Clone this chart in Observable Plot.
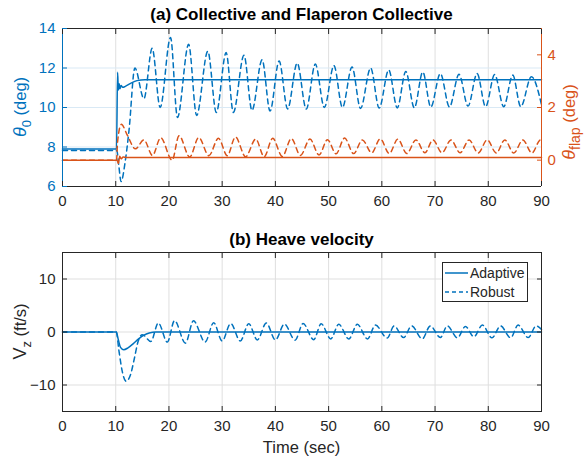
<!DOCTYPE html>
<html><head><meta charset="utf-8">
<script src="https://cdn.jsdelivr.net/npm/d3@7"></script>
<script src="https://cdn.jsdelivr.net/npm/@observablehq/plot@0.6"></script>
<style>
body{margin:0;background:#fff;}
#chart{position:relative;width:584px;height:462px;background:#fff;}
#chart svg{display:block;}
</style></head><body><div id="chart"></div>
<script>
// ---------- data ----------
const timeTicks = [0,10,20,30,40,50,60,70,80,90];
const thetaTicks = [6,8,10,12,14];
const flapTicks = [0,2,4];
const vzTicks = [-10,0,10];

// [time (s), theta0 (deg)] — Adaptive
const theta0Adaptive = [[0,7.9],[10.15,7.9],[10.35,11.78],[10.5,10.88],[10.65,11.2],[10.8,10.95],[11.0,11.12],[11.3,11.02],[11.8,11.07],[12.8,11.22],[14.0,11.36],[15.5,11.41],[90,11.41]];
// [time (s), theta0 (deg)] — Robust
const theta0Robust = [[0,7.82],[10.2,7.82],[10.6,7.0],[11.0,6.25],[11.8,7.3],[12.5,8.85],[13.6,12.0],[15.3,10.45],[16.85,13.0],[18.35,10.0],[20.3,13.55],[21.6,9.5],[23.7,13.2],[25.2,9.6],[27.3,12.85],[28.9,9.75],[30.75,12.78],[32.1,9.75],[34.1,12.65],[35.6,9.85],[37.5,12.42],[39.0,9.82],[40.7,12.35],[42.3,9.93],[44.1,12.25],[45.8,9.92],[47.5,12.2],[49.2,10.0],[51.0,12.12],[52.6,10.0],[54.4,12.05],[56.0,9.95],[57.9,12.0],[59.5,9.97],[61.3,11.9],[62.9,9.98],[64.5,11.82],[66.1,9.98],[67.7,11.8],[69.2,10.02],[71.0,11.72],[72.7,10.03],[74.5,11.68],[76.2,10.07],[77.9,11.72],[79.5,10.04],[81.2,11.67],[82.9,10.04],[84.6,11.64],[86.1,10.04],[88.1,11.56],[90,10.15]];
// [time (s), theta_flap (deg)] — Adaptive
const flapAdaptive = [[0,0],[10.25,0],[10.5,-0.13],[10.75,0.15],[11.0,0.05],[11.4,0.12],[12,0.1],[90,0.1]];
// [time (s), theta_flap (deg)] — Robust
const flapRobust = [[0,0],[10.15,0],[10.35,0.7],[11.05,1.36],[12.2,0.94],[13.7,0.43],[15.3,0.77],[16.9,0.18],[18.45,0.85],[20.6,0.0],[21.9,0.93],[23.9,0.12],[25.6,0.86],[27.5,0.17],[29.3,0.83],[30.95,0.17],[32.5,0.88],[34.4,0.13],[36.3,0.8],[37.9,0.13],[39.5,0.83],[41.3,0.14],[43.0,0.82],[44.7,0.18],[46.5,0.8],[48.2,0.2],[49.8,0.78],[51.4,0.24],[53.0,0.84],[54.7,0.25],[56.35,0.77],[58.1,0.28],[59.7,0.81],[61.4,0.25],[63.0,0.8],[64.7,0.25],[66.4,0.77],[68.1,0.28],[69.6,0.77],[71.3,0.28],[73.0,0.77],[74.7,0.28],[76.4,0.77],[78.1,0.27],[79.8,0.77],[81.5,0.27],[83.1,0.77],[84.8,0.27],[86.5,0.77],[88.2,0.27],[89.8,0.77],[90,0.76]];
// [time (s), Vz (ft/s)] — Adaptive
const vzAdaptive = [[0,0],[10.1,0],[10.5,-1.5],[10.9,-2.9],[11.5,-3.35],[12.3,-3.0],[13.3,-2.2],[14.3,-1.3],[15.3,-0.6],[16.3,-0.2],[17.5,0],[90,0]];
// [time (s), Vz (ft/s)] — Robust
const vzRobust = [[0,0],[10.1,0],[10.6,-3.5],[11.2,-7.3],[11.95,-9.3],[12.8,-8.0],[13.5,-5.0],[14.2,-1.8],[15.0,-0.5],[16.6,-1.8],[18.0,1.7],[19.7,-1.9],[21.05,2.15],[23.1,-2.1],[24.6,2.1],[26.8,-1.9],[28.4,1.75],[30.0,-1.7],[31.6,1.6],[33.4,-1.7],[35.0,1.55],[36.6,-1.5],[38.3,1.7],[40.0,-1.5],[41.7,1.5],[43.7,-1.55],[45.2,1.6],[47.2,-1.45],[48.6,1.55],[50.4,-1.3],[51.9,1.45],[53.8,-1.3],[55.4,1.45],[57.3,-1.3],[58.8,1.3],[61.0,-1.15],[62.3,1.15],[64.1,-1.05],[65.6,1.15],[67.6,-1.3],[69.1,1.15],[71.0,-1.05],[72.3,1.15],[74.2,-1.1],[75.7,1.05],[77.3,-0.9],[78.9,1.3],[80.7,-1.1],[82.3,1.15],[84.2,-1.1],[85.6,1.3],[87.5,-1.05],[89.0,1.15],[90,0.5]];

const titleA = "(a) Collective and Flaperon Collective";
const titleB = "(b) Heave velocity";
const xLabel = "Time (sec)";
const legendLabels = ["Adaptive", "Robust"];

// ---------- style ----------
const BLUE = "#0072BD", ORANGE = "#D95319", INK = "#262626";
const FONT = "'Liberation Sans', Arial, Helvetica, sans-serif";
const GRIDX = "#dfdfdf", GRIDY_BLUE = "#d9e9f5";
const DASH = "5,4";
const LW = 1.5;
const W = 584;

const chart = document.getElementById("chart");
const X = d => d[0], Y = d => d[1];

// right axis (theta_flap) mapped onto the left scale (theta0)
const flapToTheta = d3.scaleLinear([-1, 5], [6, 14]);

// ---------- panel (a) ----------
const pA = Plot.plot({
  width: W, height: 215,
  marginLeft: 62, marginRight: 43, marginTop: 28, marginBottom: 29,
  style: {fontFamily: FONT, fontSize: "15px", background: "white", overflow: "visible"},
  x: {domain: [0, 90]},
  y: {domain: [6, 14]},
  marks: [
    Plot.gridX(timeTicks, {stroke: GRIDX, strokeOpacity: 1}),
    Plot.gridY(thetaTicks, {stroke: GRIDY_BLUE, strokeOpacity: 1}),
    Plot.line(theta0Robust, {x: X, y: Y, stroke: BLUE, strokeWidth: LW, strokeDasharray: DASH, curve: "monotone-x"}),
    Plot.line(theta0Adaptive, {x: X, y: Y, stroke: BLUE, strokeWidth: LW, curve: "monotone-x"}),
    Plot.line(flapRobust, {x: X, y: d => flapToTheta(d[1]), stroke: ORANGE, strokeWidth: LW, strokeDasharray: DASH, curve: "monotone-x"}),
    Plot.line(flapAdaptive, {x: X, y: d => flapToTheta(d[1]), stroke: ORANGE, strokeWidth: LW, curve: "monotone-x"}),
    Plot.ruleY([6], {stroke: INK}),
    Plot.ruleY([14], {stroke: INK}),
    Plot.ruleX([0], {stroke: BLUE}),
    Plot.ruleX([90], {stroke: ORANGE}),
    Plot.axisX(timeTicks, {anchor: "bottom", tickSize: -5, tickPadding: 14, color: INK, label: null}),
    Plot.axisX(timeTicks, {anchor: "top", tickSize: -5, text: null, color: INK, label: null}),
    Plot.axisY(thetaTicks, {anchor: "left", tickSize: -5, tickPadding: 12, color: BLUE, label: null}),
    Plot.axisY(flapTicks.map(flapToTheta), {anchor: "right", tickSize: -5, tickPadding: 11, color: ORANGE, label: null, tickFormat: d => String(Math.round(flapToTheta.invert(d)))})
  ]
});
pA.style.position = "absolute"; pA.style.left = "0px"; pA.style.top = "0px";
chart.appendChild(pA);

// ---------- panel (b) ----------
const pB = Plot.plot({
  width: W, height: 247,
  marginLeft: 62, marginRight: 43, marginTop: 37, marginBottom: 51,
  style: {fontFamily: FONT, fontSize: "15px", background: "transparent", overflow: "visible"},
  x: {domain: [0, 90]},
  y: {domain: [-15, 15]},
  marks: [
    Plot.gridX(timeTicks, {stroke: GRIDX, strokeOpacity: 1}),
    Plot.gridY(vzTicks, {stroke: GRIDX, strokeOpacity: 1}),
    Plot.line(vzRobust, {x: X, y: Y, stroke: BLUE, strokeWidth: LW, strokeDasharray: DASH, curve: "monotone-x"}),
    Plot.line(vzAdaptive, {x: X, y: Y, stroke: BLUE, strokeWidth: LW, curve: "monotone-x"}),
    Plot.frame({stroke: INK}),
    Plot.axisX(timeTicks, {anchor: "bottom", tickSize: -5, tickPadding: 14, color: INK, label: null}),
    Plot.axisX(timeTicks, {anchor: "top", tickSize: -5, text: null, color: INK, label: null}),
    Plot.axisY(vzTicks, {anchor: "left", tickSize: -5, tickPadding: 12, color: INK, label: null}),
    Plot.axisY(vzTicks, {anchor: "right", tickSize: -5, text: null, color: INK, label: null})
  ]
});
pB.style.position = "absolute"; pB.style.left = "0px"; pB.style.top = "215px";
chart.appendChild(pB);

// ---------- texts ----------
function txt(svg, x, y, str, opts = {}) {
  return d3.select(svg).append("text")
    .attr("x", x).attr("y", y)
    .attr("text-anchor", opts.anchor || "middle")
    .attr("font-family", FONT)
    .attr("font-size", opts.size || 15)
    .attr("font-weight", opts.weight || "normal")
    .attr("fill", opts.fill || INK)
    .text(str);
}
const plotCenter = (62 + 541) / 2;
txt(pA, plotCenter, 20, titleA, {size: 17, weight: "bold", fill: "#000"});
txt(pB, plotCenter, 30, titleB, {size: 17, weight: "bold", fill: "#000"});
txt(pB, plotCenter, 238, xLabel, {size: 16.5});

function subLabel(svg, cx, cy, main, sub, rest, color, italicMain, subSize, shift) {
  const t = d3.select(svg).append("text")
    .attr("transform", `translate(${cx},${cy}) rotate(-90)`)
    .attr("text-anchor", "middle")
    .attr("font-family", FONT)
    .attr("font-size", 16.5)
    .attr("fill", color);
  t.append("tspan").attr("font-style", italicMain ? "italic" : "normal").attr("font-size", 18).text(main);
  t.append("tspan").attr("dy", shift).attr("font-size", subSize).text(sub);
  t.append("tspan").attr("dy", -shift).text(rest);
}
subLabel(pA, 26, 107, "θ", "0", " (deg)", BLUE, true, 13, 5);
subLabel(pA, 575, 122, "θ", "flap", " (deg)", ORANGE, true, 14, 5);
subLabel(pB, 26, 116.5, "V", "z", " (ft/s)", INK, false, 13, 5);

// ---------- legend ----------
const lg = d3.select(pB).append("g");
lg.append("rect").attr("x", 442.5).attr("y", 47.5).attr("width", 85).attr("height", 39)
  .attr("fill", "white").attr("stroke", INK).attr("stroke-width", 1);
[["none", 58], ["4,3", 77]].forEach(([dash, y], i) => {
  lg.append("line").attr("x1", 445).attr("x2", 468).attr("y1", y).attr("y2", y)
    .attr("stroke", BLUE).attr("stroke-width", LW).attr("stroke-dasharray", dash);
  txt(pB, 470, y + 5, legendLabels[i], {anchor: "start", size: 14});
});
</script></body></html>
